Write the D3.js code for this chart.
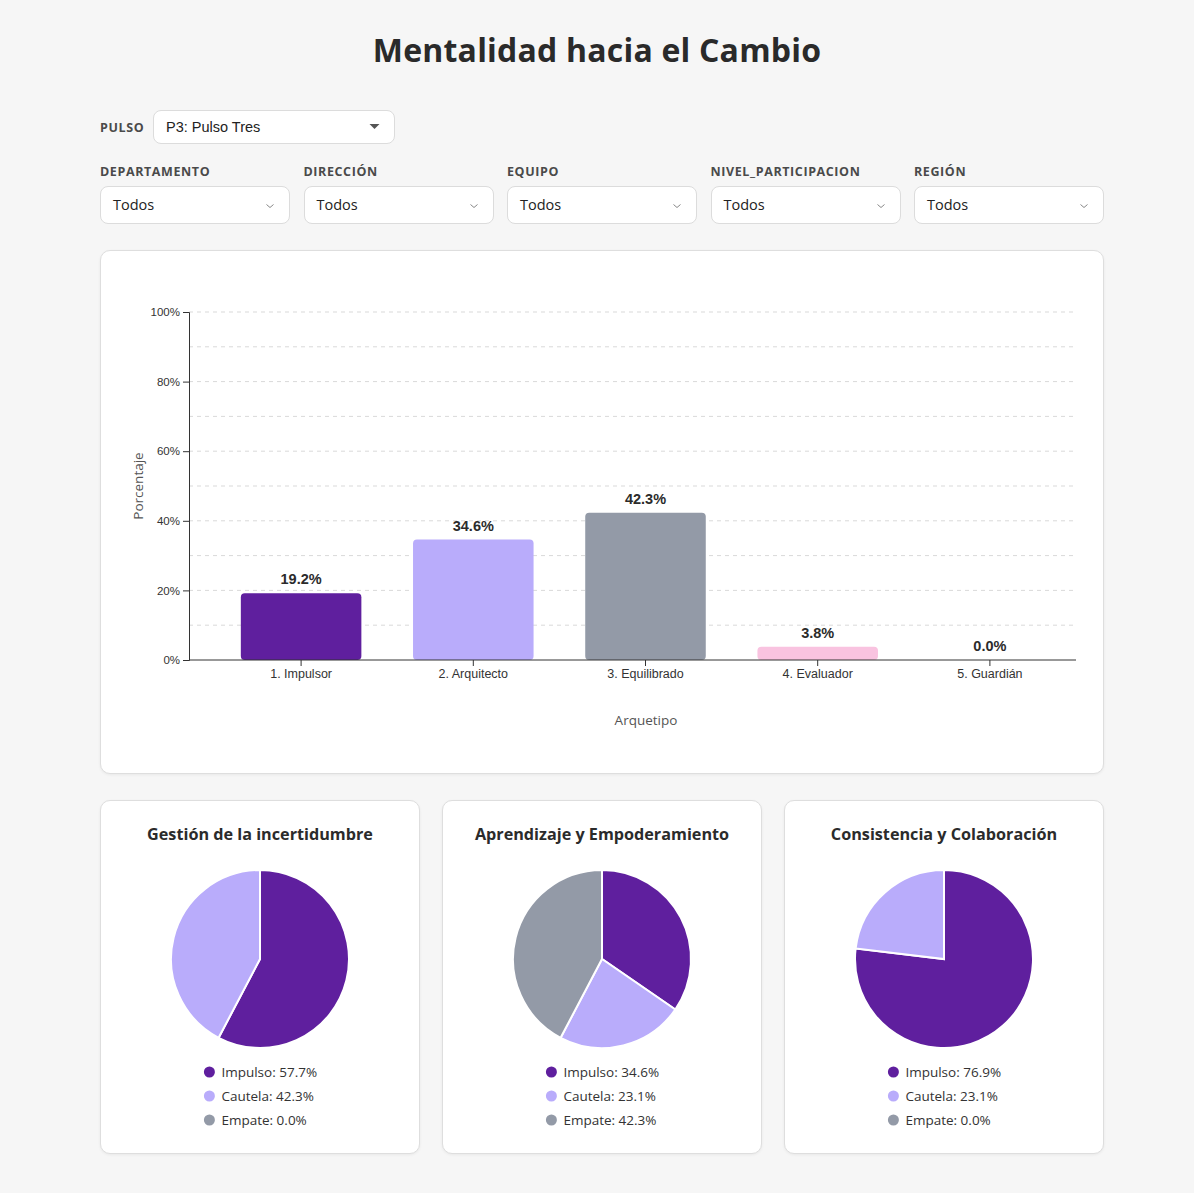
<!DOCTYPE html>
<html>
<head>
<meta charset="utf-8">
<script src="https://cdn.jsdelivr.net/npm/d3@7"></script>
<style>
  body { margin:0; background:#f6f6f6; font-family:"Open Sans", sans-serif; color:#2b2b2b; }
  #page { position:relative; width:1194px; height:1193px; }
  h1 { position:absolute; left:0; width:1194px; top:28px; margin:0; text-align:center; font-size:32px; font-weight:700; color:#2a2a2a; letter-spacing:0.2px; }
  .lbl { position:absolute; font-size:12.5px; font-weight:700; color:#4a4a4a; letter-spacing:0.6px; }
  .sel { position:absolute; box-sizing:border-box; background:#fff; border:1px solid #dcdcdc; border-radius:8px; font-size:14.5px; color:#222; padding-left:12px; }
  .sel svg { position:absolute; }
  .card { position:absolute; box-sizing:border-box; background:#fff; border:1px solid #dedede; border-radius:10px; box-shadow:0 1px 3px rgba(0,0,0,0.06); }
</style>
</head>
<body>
<div id="page"></div>
<script>
// filtros
var pulsoLabel = 'PULSO';
var pulsoValue = 'P3: Pulso Tres';
var filterNames = ['DEPARTAMENTO', 'DIRECCIÓN', 'EQUIPO', 'NIVEL_PARTICIPACION', 'REGIÓN'];
var filterValue = 'Todos';

// barras
var arquetipos = ['1. Impulsor', '2. Arquitecto', '3. Equilibrado', '4. Evaluador', '5. Guardián'];
var porcentajes = [19.2, 34.6, 42.3, 3.8, 0.0];
var barColors = ['#5f1f9e', '#b9acfb', '#939aa7', '#f9c3e0', '#f9c3e0'];
var yTicks = [0, 20, 40, 60, 80, 100];

// tortas
var pieTitles = ['Gestión de la incertidumbre', 'Aprendizaje y Empoderamiento', 'Consistencia y Colaboración'];
var pieKeys = ['Impulso', 'Cautela', 'Empate'];
var pieColors = ['#5f1f9e', '#b9acfb', '#939aa7'];
var pieValues = [
  [57.7, 42.3, 0.0],
  [34.6, 23.1, 42.3],
  [76.9, 23.1, 0.0]
];

var page = d3.select('#page');
page.append('h1').text('Mentalidad hacia el Cambio');

// --- selects ---
page.append('div').attr('class', 'lbl').style('left', '100px').style('top', '119px').text(pulsoLabel);
var ps = page.append('div').attr('class', 'sel')
  .style('left', '153px').style('top', '110px').style('width', '242px').style('height', '34px')
  .style('line-height', '32px').style('font-family', '"Liberation Sans", Arial, sans-serif').style('font-size', '14.5px')
  .text(pulsoValue);
ps.append('svg').attr('width', 12).attr('height', 8).style('right', '13px').style('top', '12px')
  .append('path').attr('d', 'M0.5,1 L10.5,1 L5.5,6 Z').attr('fill', '#555');

filterNames.forEach(function(name, i) {
  var x = 100 + i * 203.5;
  page.append('div').attr('class', 'lbl').style('left', x + 'px').style('top', '163px').text(name);
  var s = page.append('div').attr('class', 'sel')
    .style('left', x + 'px').style('top', '186px').style('width', '190px').style('height', '38px')
    .style('line-height', '36px').text(filterValue);
  s.append('svg').attr('width', 10).attr('height', 6).style('right', '14px').style('top', '16px')
    .append('path').attr('d', 'M1.5,1.5 L5,4.5 L8.5,1.5').attr('fill', 'none').attr('stroke', '#888').attr('stroke-width', 1);
});

// --- cards ---
page.append('div').attr('class', 'card')
  .style('left', '100px').style('top', '250px').style('width', '1004px').style('height', '524px');
pieTitles.forEach(function(t, k) {
  page.append('div').attr('class', 'card')
    .style('left', (100 + k * 342) + 'px').style('top', '800px').style('width', '320px').style('height', '354px');
});

var svg = page.append('svg').attr('width', 1194).attr('height', 1193)
  .style('position', 'absolute').style('left', 0).style('top', 0).style('z-index', 5)
  .style('pointer-events', 'none');

// --- bar chart ---
var x0 = 189, x1 = 1076, yTop = 312, yBot = 660;
var x = d3.scaleBand().domain(arquetipos).range([215, x1]).paddingInner(0.3).paddingOuter(0.15);
var y = d3.scaleLinear().domain([0, 100]).range([yBot, yTop]);

var g = svg.append('g');
// grid every 10%
g.selectAll('line.grid').data(d3.range(10, 101, 10)).enter().append('line')
  .attr('class', 'grid')
  .attr('x1', x0).attr('x2', x1)
  .attr('y1', function(d) { return y(d); }).attr('y2', function(d) { return y(d); })
  .attr('stroke', '#d9d9d9').attr('stroke-dasharray', '4,4').attr('stroke-width', 1);

g.selectAll('rect.bar').data(porcentajes).enter().append('rect')
  .attr('class', 'bar')
  .attr('x', function(d, i) { return x(arquetipos[i]); })
  .attr('y', function(d) { return y(d); })
  .attr('width', x.bandwidth())
  .attr('height', function(d) { return yBot - y(d); })
  .attr('rx', 4).attr('ry', 4)
  .attr('fill', function(d, i) { return barColors[i]; });

g.selectAll('text.val').data(porcentajes).enter().append('text')
  .attr('class', 'val')
  .attr('x', function(d, i) { return x(arquetipos[i]) + x.bandwidth() / 2; })
  .attr('y', function(d) { return y(d) - 9; })
  .attr('text-anchor', 'middle')
  .attr('font-family', '"Liberation Sans", Arial, sans-serif').attr('font-weight', 700).attr('font-size', 14.5)
  .attr('fill', '#2b2b2b')
  .text(function(d) { return d.toFixed(1) + '%'; });

var yAxis = g.append('g').attr('transform', 'translate(' + x0 + ',0)')
  .call(d3.axisLeft(y).tickValues(yTicks).tickSize(6).tickFormat(function(d) { return d + '%'; }));
yAxis.selectAll('text').attr('font-family', '"Liberation Sans", Arial, sans-serif').attr('font-size', 11.5).attr('fill', '#333');
yAxis.select('.domain').attr('stroke', '#333');
yAxis.selectAll('.tick line').attr('stroke', '#333');

var xAxis = g.append('g').attr('transform', 'translate(0,' + yBot + ')')
  .call(d3.axisBottom(x).tickSize(6).tickSizeOuter(0));
xAxis.select('.domain').remove();
xAxis.append('line').attr('x1', x0).attr('x2', x1).attr('stroke', '#333');
xAxis.selectAll('.tick line').attr('stroke', '#333');
xAxis.selectAll('text').attr('font-family', '"Liberation Sans", Arial, sans-serif').attr('font-size', 12.5).attr('fill', '#333');

g.append('text').attr('transform', 'translate(143,' + ((yTop + yBot) / 2) + ') rotate(-90)')
  .attr('text-anchor', 'middle').attr('font-size', 13.5).attr('fill', '#555')
  .attr('font-family', '"Open Sans", sans-serif').text('Porcentaje');
g.append('text').attr('x', 646).attr('y', 725)
  .attr('text-anchor', 'middle').attr('font-size', 13.5).attr('fill', '#555')
  .attr('font-family', '"Open Sans", sans-serif').text('Arquetipo');

// --- pies ---
var pie = d3.pie().sort(null).value(function(d) { return d; });
var arc = d3.arc().innerRadius(0).outerRadius(89);

pieTitles.forEach(function(title, k) {
  var cx = 100 + k * 342 + 160;
  var pg = svg.append('g').attr('font-family', '"Open Sans", sans-serif');
  pg.append('text').attr('x', cx).attr('y', 840).attr('text-anchor', 'middle')
    .attr('font-size', 16.2).attr('font-weight', 700).attr('fill', '#2b2b2b').text(title);
  pg.append('g').attr('transform', 'translate(' + cx + ',959)')
    .selectAll('path').data(pie(pieValues[k])).enter().append('path')
    .attr('d', arc)
    .attr('fill', function(d, i) { return pieColors[i]; })
    .attr('stroke', '#fff').attr('stroke-width', function(d) { return d.data > 0 ? 2 : 0; });

  var leg = pg.append('g');
  var items = leg.selectAll('g').data(pieKeys).enter().append('g')
    .attr('transform', function(d, i) { return 'translate(0,' + (1072 + i * 24) + ')'; });
  items.append('circle').attr('cx', 0).attr('cy', 0).attr('r', 5.5)
    .attr('fill', function(d, i) { return pieColors[i]; });
  items.append('text').attr('x', 12).attr('y', 5).attr('font-size', 13.5).attr('fill', '#333')
    .text(function(d, i) { return d + ': ' + pieValues[k][i].toFixed(1) + '%'; });
  var w = d3.max(items.nodes(), function(n) { return n.getBBox().width; });
  leg.attr('transform', 'translate(' + (cx - w / 2 + 6) + ',0)');
});
</script>
</body>
</html>
